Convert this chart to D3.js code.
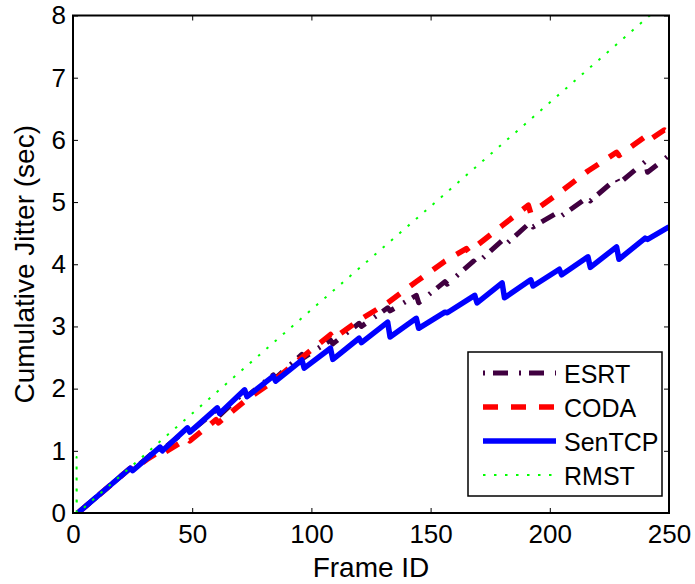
<!DOCTYPE html>
<html>
<head>
<meta charset="utf-8">
<script src="https://cdn.jsdelivr.net/npm/d3@7"></script>
<style>
  body { margin: 0; background: #fff; }
  text { font-family: "Liberation Sans", Arial, sans-serif; fill: #000; }
</style>
</head>
<body>
<div id="chart"></div>
<script>
// Data: [frame, cumulative jitter]
var esrt = [[2,0],[24,0.72],[25,0.69],[36,1.05],[37,1.0],[48,1.35],[49,1.3],[60,1.65],[61,1.55],
  [72,1.95],[73,1.88],[84,2.22],[85,2.17],[96,2.55],[97,2.5],[108,2.78],[109,2.72],[120,3.05],[121,3.0],
  [132,3.3],[133,3.25],[144,3.5],[145,3.38],[156,3.72],[157,3.68],[168,4.05],[169,4.0],[180,4.38],[181,4.3],
  [192,4.68],[193,4.6],[204,4.85],[205,4.78],[216,5.08],[217,5.02],[228,5.38],[229,5.3],[240,5.65],[241,5.48],[250,5.75]];

var coda = [[2,0],[24,0.72],[25,0.7],[31,0.86],[36,0.98],[37,0.94],[48,1.2],[49,1.16],[60,1.5],[61,1.45],
  [72,1.8],[84,2.12],[96,2.5],[108,2.87],[109,2.8],[120,3.1],[132,3.38],[144,3.72],[156,4.05],[165,4.25],[166,4.2],
  [180,4.62],[191,4.95],[192,4.82],[204,5.15],[216,5.5],[228,5.8],[229,5.75],[240,6.05],[241,5.98],[248,6.16],[250,6.12]];

var senTcp = [[2,0],[24,0.72],[25,0.68],[36.5,1.06],[37.5,1.0],[48,1.37],[49,1.3],[60.5,1.69],[61.5,1.6],
  [72,1.98],[73,1.87],[84,2.2],[85,2.12],[96,2.46],[97,2.33],[108,2.65],[109,2.47],[120,2.81],[121,2.74],
  [132,3.07],[133,2.83],[144,3.13],[145,2.97],[156,3.23],[157,3.22],[168.5,3.5],[169.5,3.38],[180,3.7],[181,3.46],
  [192,3.75],[193,3.65],[204,3.92],[205,3.83],[216,4.12],[217,3.95],[228,4.28],[229,4.08],[240,4.42],[241,4.4],[250,4.6]];

var rmst = [[1.5,0],[1.5,0.9],[1.6,0],[2,0],[50,1.6],[100,3.27],[150,4.93],[200,6.6],[250,8.27]];

var seriesNames = ["ESRT", "CODA", "SenTCP", "RMST"];
var xTicks = [0, 50, 100, 150, 200, 250];
var yTicks = [0, 1, 2, 3, 4, 5, 6, 7, 8];

var svgWidth = 695;
var svgHeight = 584;
var margin = { top: 15.5, right: 26, bottom: 71, left: 73 };
var width = svgWidth - margin.left - margin.right;
var height = svgHeight - margin.top - margin.bottom;

var svg = d3.select("#chart").append("svg")
  .attr("width", svgWidth)
  .attr("height", svgHeight);

var g = svg.append("g")
  .attr("transform", `translate(${margin.left},${margin.top})`);

var x = d3.scaleLinear().domain([0, 250]).range([0, width]);
var y = d3.scaleLinear().domain([0, 8]).range([height, 0]);

svg.append("defs").append("clipPath").attr("id", "plotclip")
  .append("rect").attr("x", -3).attr("y", 0).attr("width", width + 3).attr("height", height);

// styles per series
var styles = [
  { data: esrt, color: "#400040", width: 5, dash: "2,8,15,11" },
  { data: coda, color: "#ff0000", width: 5.5, dash: "15,13" },
  { data: senTcp, color: "#0000ff", width: 5.5, dash: null },
  { data: rmst, color: "#00ff00", width: 2, dash: "2.5,8.5" }
];

var line = d3.line().x(d => x(d[0])).y(d => y(d[1]));

var plot = g.append("g").attr("clip-path", "url(#plotclip)");

styles.forEach(function (s) {
  plot.append("path")
    .datum(s.data)
    .attr("d", line)
    .attr("fill", "none")
    .attr("stroke", s.color)
    .attr("stroke-width", s.width)
    .attr("stroke-linejoin", "round")
    .attr("stroke-dasharray", s.dash);
});

// axes, ticks pointing inward
var bottomAxis = d3.axisBottom(x).tickValues(xTicks).tickSizeInner(-5).tickSizeOuter(0).tickPadding(9);
var leftAxis = d3.axisLeft(y).tickValues(yTicks).tickSizeInner(-5).tickSizeOuter(0).tickPadding(7);
var topAxis = d3.axisTop(x).tickValues(xTicks).tickSizeInner(-5).tickSizeOuter(0).tickFormat("");
var rightAxis = d3.axisRight(y).tickValues(yTicks).tickSizeInner(-5).tickSizeOuter(0).tickFormat("");

var gx = g.append("g").attr("transform", `translate(0,${height})`).call(bottomAxis);
var gy = g.append("g").call(leftAxis);
var gt = g.append("g").call(topAxis);
var gr = g.append("g").attr("transform", `translate(${width},0)`).call(rightAxis);

[gx, gy, gt, gr].forEach(function (a) {
  a.select(".domain").remove();
  a.selectAll(".tick line").attr("stroke", "#000").attr("stroke-width", 1);
  a.selectAll(".tick text").style("font-size", "26px").style("font-family", "Liberation Sans, Arial, sans-serif");
});
gx.selectAll(".tick text").attr("dy", "0.8em");

g.append("rect")
  .attr("width", width).attr("height", height)
  .attr("fill", "none").attr("stroke", "#000").attr("stroke-width", 2);

// axis labels
g.append("text")
  .attr("x", width / 2).attr("y", height + 64)
  .attr("text-anchor", "middle")
  .style("font-size", "28px")
  .text("Frame ID");

g.append("text")
  .attr("transform", "rotate(-90)")
  .attr("x", -height / 2).attr("y", -39)
  .attr("text-anchor", "middle")
  .style("font-size", "28px")
  .text("Cumulative Jitter (sec)");

// legend
var lg = svg.append("g").attr("transform", "translate(468,352)");
lg.append("rect").attr("width", 194).attr("height", 144)
  .attr("fill", "#fff").attr("stroke", "#000").attr("stroke-width", 1.5);

seriesNames.forEach(function (name, i) {
  var s = styles[i];
  var ly = 21 + i * 34;
  lg.append("line")
    .attr("x1", 15).attr("x2", 88).attr("y1", ly).attr("y2", ly)
    .attr("stroke", s.color)
    .attr("stroke-width", s.width)
    .attr("stroke-dasharray", s.dash);
  lg.append("text")
    .attr("x", 96).attr("y", ly + 9.5)
    .style("font-size", "25px")
    .text(name);
});
</script>
</body>
</html>
